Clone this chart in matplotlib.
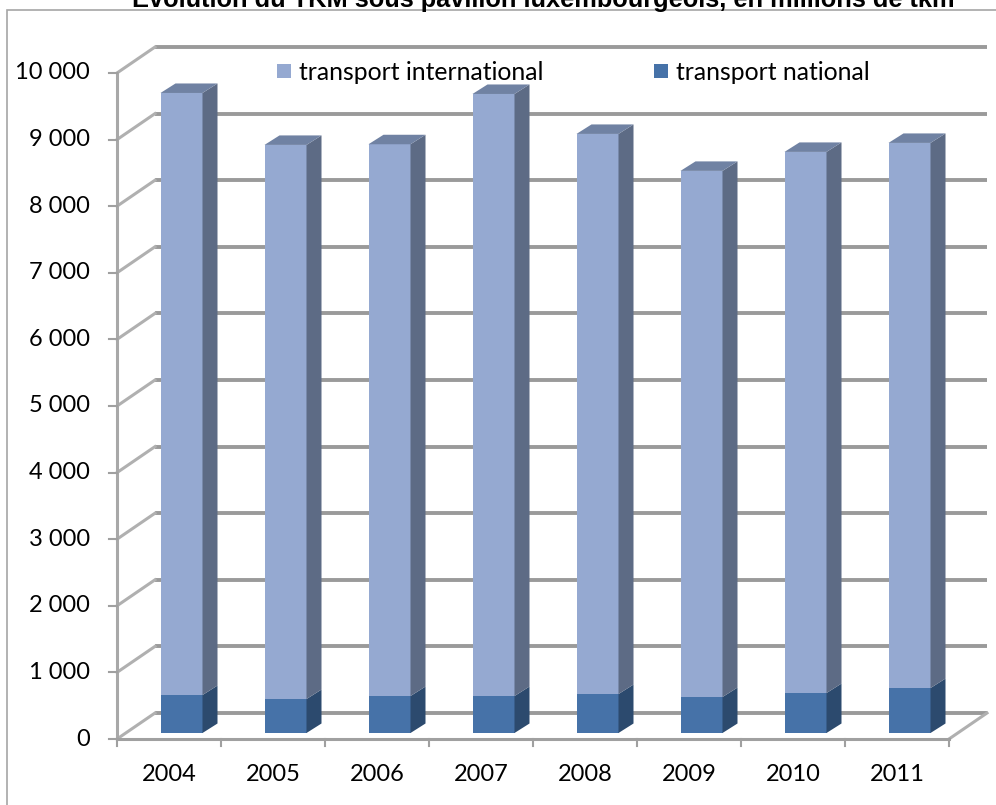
import matplotlib
matplotlib.use("Agg")
import matplotlib.pyplot as plt
from matplotlib.patches import Polygon, Rectangle

years = ["2004", "2005", "2006", "2007", "2008", "2009", "2010", "2011"]
national = [570, 510, 555, 555, 585, 540, 600, 675]
international = [9040, 8320, 8285, 9040, 8410, 7900, 8125, 8185]
y_ticks = [0, 1000, 2000, 3000, 4000, 5000, 6000, 7000, 8000, 9000, 10000]
y_labels = ["0", "1 000", "2 000", "3 000", "4 000", "5 000", "6 000", "7 000", "8 000", "9 000", "10 000"]
title = "Evolution du TKM sous pavillon luxembourgeois, en millions de tkm"
series_names = ["transport international", "transport national"]

W, H = 996, 805
fig = plt.figure(figsize=(W / 100, H / 100), dpi=100)
FONT = "Lato"

# axes (front plane) pixel placement
x0, x1 = 117, 949
y0, y1 = 739, 73
ax = fig.add_axes([x0 / W, 1 - y0 / H, (x1 - x0) / W, (y0 - y1) / H])
ax.set_xlim(-0.5, len(years) - 0.5)
ax.set_ylim(0, 10000)
ax.set_axis_off()

pxx = (x1 - x0) / len(years)      # px per category unit
pxy = (y0 - y1) / 10000           # px per value unit

# 3D-like offsets in data units
bx, by = 38 / pxx, 26 / pxy       # back wall offset
fx, fy = 12.5 / pxx, 6 / pxy      # bar front-face offset
dx, dy = 15 / pxx, 9.5 / pxy      # bar depth
bw = 42 / pxx                     # bar width

grid_c = "#9a9a9a"
diag_c = "#b0b0b0"
n = len(years)
xl, xr = -0.5, n - 0.5

# back wall gridlines and left-wall diagonals
for v in y_ticks:
    ax.plot([xl + bx, xr + bx], [v + by, v + by], color=grid_c, lw=2.8,
            solid_capstyle="butt", clip_on=False, zorder=1)
    ax.plot([xl, xl + bx], [v, v + by], color=diag_c, lw=2.2,
            clip_on=False, zorder=1)
# floor right edge
ax.plot([xr, xr + bx], [0, by], color=diag_c, lw=2.2, clip_on=False, zorder=1)
# front axes lines
ax.plot([xl, xl], [0, 10000], color="#a8a8a8", lw=2.2, clip_on=False, zorder=2)
ax.plot([xl, xr], [0, 0], color="#a0a0a0", lw=2.2, clip_on=False, zorder=2)

# ticks
for v, lab in zip(y_ticks, y_labels):
    ax.plot([xl - 8 / pxx, xl], [v, v], color="#a0a0a0", lw=1.5, clip_on=False, zorder=2)
    ax.text(xl - 27 / pxx, v, lab, ha="right", va="center", fontsize=17,
            family=FONT, color="black")
for i in range(n + 1):
    xt = xl + i
    ax.plot([xt, xt], [0, -7 / pxy], color="#a0a0a0", lw=1.5, clip_on=False, zorder=2)
for i, yr in enumerate(years):
    ax.text(i, -35 / pxy, yr, ha="center", va="center", fontsize=17,
            family=FONT, color="black")

# colours
c_int = ("#95a9d1", "#5d6b85", "#7082a3")
c_nat = ("#4672a8", "#2c4a6e", "#3a5e8c")

xs = [i + fx for i in range(n)]
ax.bar(xs, national, width=bw, bottom=fy, color=c_nat[0], zorder=5, clip_on=False)
ax.bar(xs, international, width=bw, bottom=[fy + v for v in national],
       color=c_int[0], zorder=5, clip_on=False)

for i in range(n):
    xr_ = xs[i] + bw / 2
    xlf = xs[i] - bw / 2
    b = fy
    m = fy + national[i]
    t = m + international[i]
    # side faces
    for (lo, hi, col) in [(b, m, c_nat[1]), (m, t, c_int[1])]:
        ax.add_patch(Polygon([(xr_, lo), (xr_ + dx, lo + dy), (xr_ + dx, hi + dy), (xr_, hi)],
                             closed=True, facecolor=col, edgecolor="none", zorder=5,
                             clip_on=False))
    # top face
    ax.add_patch(Polygon([(xlf, t), (xlf + dx, t + dy), (xr_ + dx, t + dy), (xr_, t)],
                         closed=True, facecolor=c_int[2], edgecolor="none", zorder=6,
                         clip_on=False))

# legend (manual)
leg = [(277, series_names[0], c_int[0]), (654, series_names[1], c_nat[0])]
for xp, lab, col in leg:
    fig.add_artist(Rectangle((xp / W, 1 - 78 / H), 14 / W, 14 / H, transform=fig.transFigure,
                             facecolor=col, edgecolor="none"))
    fig.text((xp + 22) / W, 1 - 72 / H, lab, ha="left", va="center", fontsize=17.8,
             family=FONT, color="black")

# chart frame
fig.add_artist(Rectangle((7 / W, -0.05), 1.2, 1 - 10 / H + 0.05, transform=fig.transFigure,
                         facecolor="none", edgecolor="#a6a6a6", lw=1.2))

# title (cut off at top, as in reference)
fig.text(543 / W, 1 - 7 / H, title, ha="center", va="baseline", fontsize=18.3,
         fontweight="bold", family="Liberation Sans", color="black")

fig.savefig("out.png", dpi=100)
